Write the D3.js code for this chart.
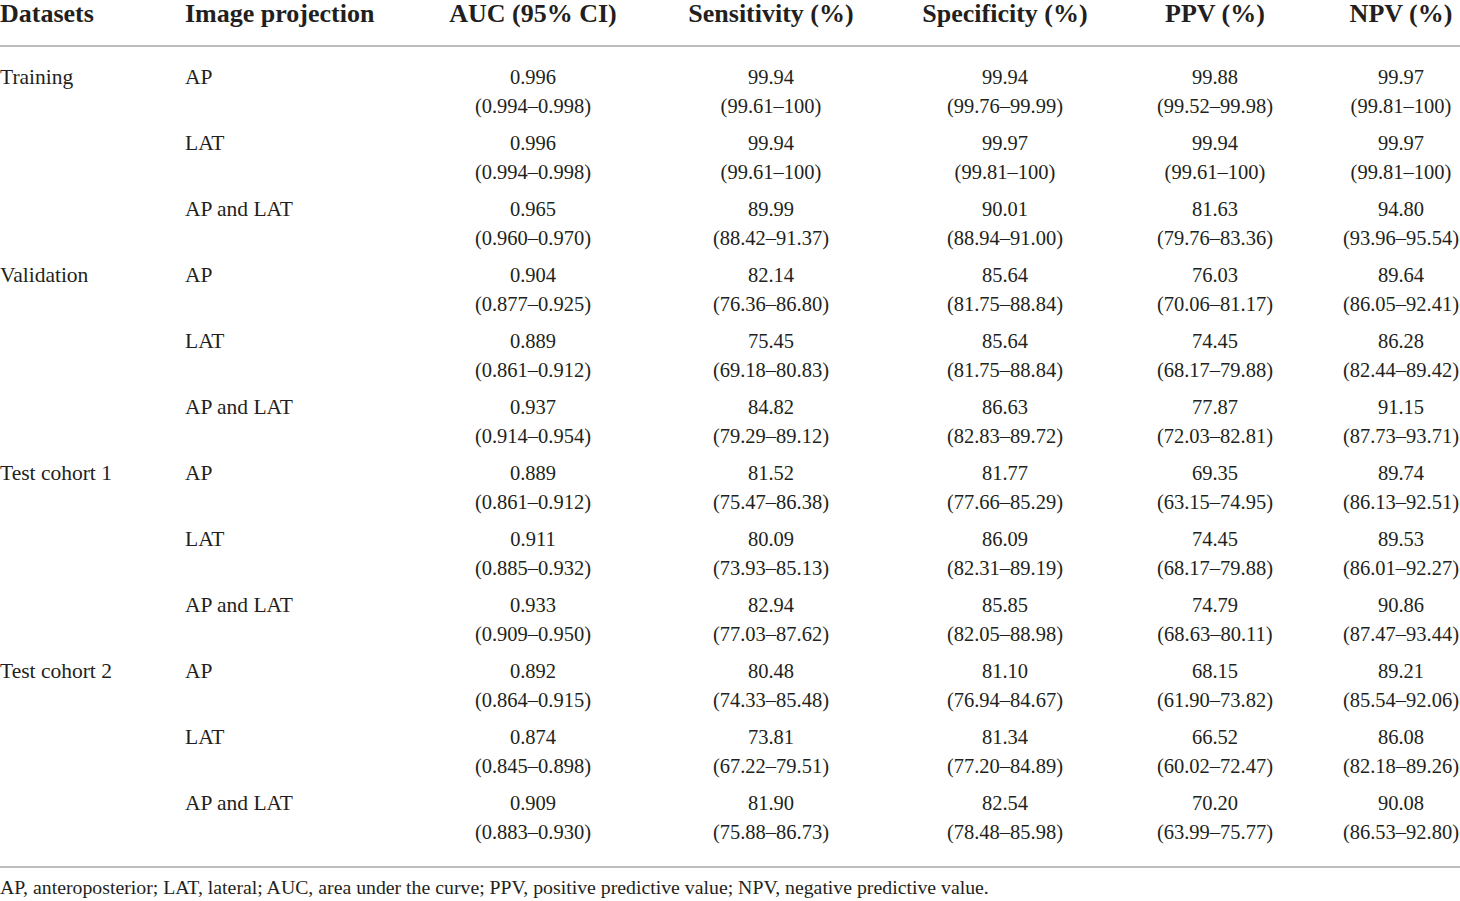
<!DOCTYPE html>
<html>
<head>
<meta charset="utf-8">
<script src="https://cdn.jsdelivr.net/npm/d3@7"></script>
<style>
  body { margin: 0; background: #fff; }
  text { font-family: "Liberation Serif", "DejaVu Serif", serif; fill: #231f20; }
</style>
</head>
<body>
<script>
var width = 1460;
var height = 901;

// table contents
var headers = ["Datasets", "Image projection", "AUC (95% CI)", "Sensitivity (%)",
  "Specificity (%)", "PPV (%)", "NPV (%)"];
var datasets = ["Training", "Validation", "Test cohort 1", "Test cohort 2"];
var projections = ["AP", "LAT", "AP and LAT"];

var auc = ["0.996", "0.996", "0.965", "0.904", "0.889", "0.937", "0.889", "0.911", "0.933", "0.892", "0.874", "0.909"];
var aucCI = ["0.994–0.998", "0.994–0.998", "0.960–0.970", "0.877–0.925", "0.861–0.912", "0.914–0.954",
  "0.861–0.912", "0.885–0.932", "0.909–0.950", "0.864–0.915", "0.845–0.898", "0.883–0.930"];
var sens = ["99.94", "99.94", "89.99", "82.14", "75.45", "84.82", "81.52", "80.09", "82.94", "80.48", "73.81", "81.90"];
var sensCI = ["99.61–100", "99.61–100", "88.42–91.37", "76.36–86.80", "69.18–80.83", "79.29–89.12",
  "75.47–86.38", "73.93–85.13", "77.03–87.62", "74.33–85.48", "67.22–79.51", "75.88–86.73"];
var spec = ["99.94", "99.97", "90.01", "85.64", "85.64", "86.63", "81.77", "86.09", "85.85", "81.10", "81.34", "82.54"];
var specCI = ["99.76–99.99", "99.81–100", "88.94–91.00", "81.75–88.84", "81.75–88.84", "82.83–89.72",
  "77.66–85.29", "82.31–89.19", "82.05–88.98", "76.94–84.67", "77.20–84.89", "78.48–85.98"];
var ppv = ["99.88", "99.94", "81.63", "76.03", "74.45", "77.87", "69.35", "74.45", "74.79", "68.15", "66.52", "70.20"];
var ppvCI = ["99.52–99.98", "99.61–100", "79.76–83.36", "70.06–81.17", "68.17–79.88", "72.03–82.81",
  "63.15–74.95", "68.17–79.88", "68.63–80.11", "61.90–73.82", "60.02–72.47", "63.99–75.77"];
var npv = ["99.97", "99.97", "94.80", "89.64", "86.28", "91.15", "89.74", "89.53", "90.86", "89.21", "86.08", "90.08"];
var npvCI = ["99.81–100", "99.81–100", "93.96–95.54", "86.05–92.41", "82.44–89.42", "87.73–93.71",
  "86.13–92.51", "86.01–92.27", "87.47–93.44", "85.54–92.06", "82.18–89.26", "86.53–92.80"];

var footnote = "AP, anteroposterior; LAT, lateral; AUC, area under the curve; PPV, positive predictive value; NPV, negative predictive value.";

var metrics = [[auc, aucCI], [sens, sensCI], [spec, specCI], [ppv, ppvCI], [npv, npvCI]];

// layout
var nRows = datasets.length * projections.length;
var yScale = d3.scaleLinear()
               .domain([0, nRows - 1])
               .range([77, 803]);  // vertical centre of each row's first line
var lineGap = 29;
var colX = [0, 185, 533, 771, 1005, 1215, 1401];
var colAnchor = ["start", "start", "middle", "middle", "middle", "middle", "middle"];

var svg = d3.select("body")
            .append("svg")
            .attr("width", width)
            .attr("height", height);

// rules
svg.selectAll("line.rule")
   .data([46, 867])
   .enter()
   .append("line")
   .attr("class", "rule")
   .attr("x1", 0)
   .attr("x2", width)
   .attr("y1", function(d){ return d; })
   .attr("y2", function(d){ return d; })
   .attr("stroke", "#bdbdbd")
   .attr("stroke-width", 2);

// header
svg.selectAll("text.header")
   .data(headers)
   .enter()
   .append("text")
   .attr("class", "header")
   .attr("x", function(d, i){ return colX[i]; })
   .attr("y", 22)
   .attr("text-anchor", function(d, i){ return colAnchor[i]; })
   .attr("font-size", "26px")
   .attr("font-weight", "bold")
   .text(function(d){ return d; });

// dataset labels
svg.selectAll("text.dataset")
   .data(datasets)
   .enter()
   .append("text")
   .attr("class", "dataset")
   .attr("x", colX[0])
   .attr("y", function(d, i){ return yScale(i * projections.length) + 7; })
   .attr("font-size", "21.5px")
   .text(function(d){ return d; });

// projection labels
var rows = d3.range(nRows);
svg.selectAll("text.proj")
   .data(rows)
   .enter()
   .append("text")
   .attr("class", "proj")
   .attr("x", colX[1])
   .attr("y", function(d){ return yScale(d) + 7; })
   .attr("font-size", "21.5px")
   .text(function(d){ return projections[d % projections.length]; });

// metric cells
metrics.forEach(function(m, c){
  var g = svg.append("g").attr("class", "metric");
  g.selectAll("text.val")
   .data(m[0])
   .enter()
   .append("text")
   .attr("class", "val")
   .attr("x", colX[c + 2])
   .attr("y", function(d, i){ return yScale(i) + 7; })
   .attr("text-anchor", "middle")
   .attr("font-size", "20.5px")
   .text(function(d){ return d; });
  g.selectAll("text.ci")
   .data(m[1])
   .enter()
   .append("text")
   .attr("class", "ci")
   .attr("x", colX[c + 2])
   .attr("y", function(d, i){ return yScale(i) + lineGap + 7; })
   .attr("text-anchor", "middle")
   .attr("font-size", "20.5px")
   .text(function(d){ return "(" + d + ")"; });
});

// footnote
svg.append("text")
   .attr("x", 0)
   .attr("y", 894)
   .attr("font-size", "19.8px")
   .text(footnote);
</script>
</body>
</html>
